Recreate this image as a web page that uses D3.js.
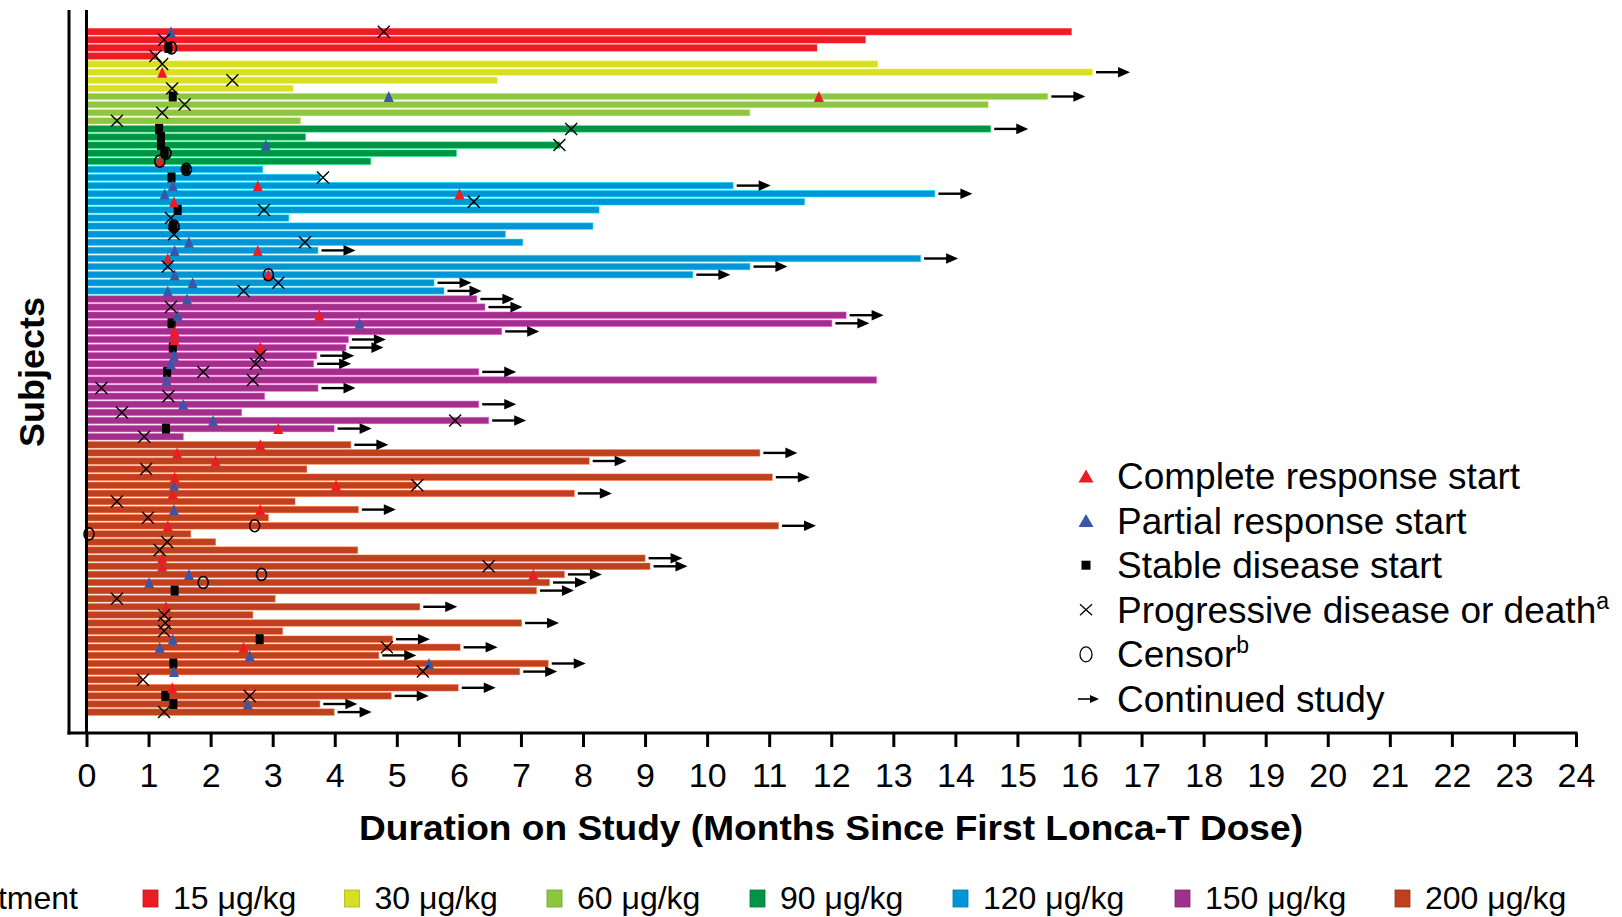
<!DOCTYPE html>
<html>
<head>
<meta charset="utf-8">
<script src="https://cdn.jsdelivr.net/npm/d3@7"></script>
<style>
  body { margin: 0; background: #fff; }
  svg { display: block; font-family: "Liberation Sans", Arial, sans-serif; }
</style>
</head>
<body>
<div id="chart"></div>
<script>
// dose groups, top to bottom
const doseLabels = ["15 μg/kg", "30 μg/kg", "60 μg/kg", "90 μg/kg", "120 μg/kg", "150 μg/kg", "200 μg/kg"];
const doseColors = ["#ed1c24", "#d7df23", "#8dc63f", "#009444", "#0096d6", "#a0308a", "#bf401e"];
const doseCounts = [4, 4, 4, 5, 16, 18, 34];

// months on study per subject (row order)
const duration = [
    15.87, 12.55, 11.77, 1.14,
    12.75, 16.21, 6.62, 3.33,
    15.49, 14.53, 10.69, 3.45,
    14.57, 3.53, 7.63, 5.96, 4.58,
    2.84, 3.77, 10.42, 13.67, 11.57, 8.26, 3.26, 8.16, 6.75, 7.03, 3.73, 13.44, 10.69, 9.77, 5.60, 5.76,
    6.29, 6.42, 12.24, 12.01, 6.69, 4.22, 4.18, 3.71, 3.66, 6.32, 12.73, 3.73, 2.87, 6.32, 2.50, 6.48, 3.99, 1.56,
    4.26, 10.85, 8.10, 3.55, 11.05, 5.31, 7.86, 3.36, 4.38, 2.93, 11.15, 1.68, 2.08, 4.37, 9.00, 9.08, 7.70,
    7.46, 7.25, 3.04, 5.37, 2.68, 7.01, 3.16, 4.93, 6.02, 4.71, 7.44, 6.98, 0.89, 5.99, 4.91, 3.76, 3.99
];
// 1 = continued study (arrow)
const continued = [
    0, 0, 0, 0,
    0, 1, 0, 0,
    1, 0, 0, 0,
    1, 0, 0, 0, 0,
    0, 0, 1, 1, 0, 0, 0, 0, 0, 0, 1, 1, 1, 1, 1, 1,
    1, 1, 1, 1, 1, 1, 1, 1, 1, 1, 0, 1, 0, 1, 0, 1, 1, 0,
    1, 1, 1, 0, 1, 0, 1, 0, 1, 0, 1, 0, 0, 0, 1, 1, 1,
    1, 1, 0, 1, 0, 1, 0, 1, 1, 1, 1, 1, 0, 1, 1, 1, 1
];

// events: [subject, month]
const crStart = [[6, 1.22], [9, 11.80], [17, 1.18], [20, 2.76], [21, 6.01], [22, 1.41], [28, 2.76], [29, 1.31],
    [31, 2.93], [36, 3.75], [38, 1.42], [39, 1.42], [40, 2.80], [50, 3.09], [52, 2.80], [53, 1.46], [54, 2.08],
    [56, 1.42], [57, 4.02], [58, 1.39], [60, 2.80], [62, 1.31], [66, 1.22], [67, 1.22], [68, 7.20], [72, 1.28],
    [77, 2.53], [82, 1.38]];
const prStart = [[1, 1.36], [9, 4.87], [15, 2.89], [20, 1.39], [21, 1.26], [27, 1.65], [28, 1.42], [31, 1.42],
    [32, 1.71], [33, 1.31], [34, 1.62], [36, 1.47], [37, 4.40], [41, 1.41], [42, 1.36], [44, 1.29], [47, 1.56],
    [49, 2.04], [57, 1.41], [60, 1.41], [68, 1.65], [69, 1.01], [76, 1.39], [77, 1.18], [78, 2.63], [79, 5.52],
    [80, 1.41], [84, 2.60]];
const sdStart = [[3, 1.32], [9, 1.39], [13, 1.17], [14, 1.20], [15, 1.20], [16, 1.26], [18, 1.60], [19, 1.37],
    [23, 1.47], [25, 1.40], [37, 1.37], [40, 1.39], [43, 1.30], [50, 1.28], [70, 1.42], [76, 2.79], [79, 1.40],
    [83, 1.27], [84, 1.40]];
const pdDeath = [[1, 4.79], [2, 1.25], [4, 1.11], [5, 1.22], [7, 2.35], [8, 1.38], [10, 1.58], [11, 1.22],
    [12, 0.49], [13, 7.81], [15, 7.62], [19, 3.81], [22, 6.24], [23, 2.86], [24, 1.36], [26, 1.41], [27, 3.52],
    [30, 1.31], [32, 3.09], [33, 2.53], [35, 1.36], [41, 2.80], [42, 2.73], [43, 1.88], [44, 2.68], [45, 0.24],
    [46, 1.32], [48, 0.57], [49, 5.94], [51, 0.93], [55, 0.96], [57, 5.33], [59, 0.49], [61, 0.99], [64, 1.30],
    [65, 1.18], [67, 6.48], [71, 0.49], [73, 1.25], [74, 1.27], [75, 1.25], [77, 4.84], [80, 5.42], [81, 0.91],
    [83, 2.63], [85, 1.25]];
const censor = [[3, 1.37], [16, 1.28], [17, 1.18], [18, 1.61], [25, 1.41], [31, 2.93], [62, 2.71], [63, 0.04],
    [68, 2.82], [69, 1.88]];

const xTicks = d3.range(0, 25);
const legendItems = ["Complete response start", "Partial response start", "Stable disease start",
    "Progressive disease or death", "Censor", "Continued study"];
const legendSup = ["", "", "", "a", "b", ""];

// ---- build subjects
let doseOf = [];
doseCounts.forEach((n, g) => { for (let k = 0; k < n; k++) doseOf.push(g); });
const subjects = duration.map((d, i) => ({id: i + 1, dose: doseOf[i], dur: d, cont: continued[i]}));

const W = 1622, H = 917;
const svg = d3.select("#chart").append("svg").attr("width", W).attr("height", H);

const x = d3.scaleLinear().domain([0, 24]).range([86.5, 1576]);
const y = d3.scaleBand().domain(subjects.map(d => d.id)).range([27.65, 716.15])
    .paddingInner(0.2).paddingOuter(0.1);
const yc = id => y(id) + y.bandwidth() / 2;

// ---- bars
svg.append("g").selectAll("rect").data(subjects).enter().append("rect")
    .attr("x", x(0))
    .attr("y", d => y(d.id))
    .attr("width", d => x(d.dur) - x(0))
    .attr("height", y.bandwidth())
    .attr("fill", d => doseColors[d.dose])
    .attr("stroke", d => d3.color(doseColors[d.dose]).brighter(1.3))
    .attr("stroke-opacity", 0.6)
    .attr("stroke-width", 0.8);

// ---- arrows
const arrows = svg.append("g").selectAll("g").data(subjects.filter(d => d.cont)).enter().append("g")
    .attr("transform", d => "translate(" + (x(d.dur) + 3.5) + "," + yc(d.id) + ")");
arrows.append("line").attr("x1", 0).attr("x2", 24).attr("stroke", "#000").attr("stroke-width", 2.4);
arrows.append("path").attr("d", "M22,-5.3L34,0L22,5.3Z").attr("fill", "#000");

function triPath(cx, cy, w, h) {
    return "M" + (cx - w / 2) + "," + (cy + h / 2) + "L" + cx + "," + (cy - h / 2) + "L" + (cx + w / 2) + "," + (cy + h / 2) + "Z";
}

// ---- markers
const mk = svg.append("g");
mk.selectAll("rect.sd").data(sdStart).enter().append("rect")
    .attr("class", "sd")
    .attr("x", d => x(d[1]) - 4).attr("y", d => yc(d[0]) - 5)
    .attr("width", 8).attr("height", 10).attr("fill", "#000");
mk.selectAll("path.pr").data(prStart).enter().append("path")
    .attr("class", "pr")
    .attr("d", d => triPath(x(d[1]), yc(d[0]), 10, 11)).attr("fill", "#3b56a6");
mk.selectAll("path.cr").data(crStart).enter().append("path")
    .attr("class", "cr")
    .attr("d", d => triPath(x(d[1]), yc(d[0]), 10, 11)).attr("fill", "#ed1c24");
mk.selectAll("path.pd").data(pdDeath).enter().append("path")
    .attr("class", "pd")
    .attr("d", d => {
        let cx = x(d[1]), cy = yc(d[0]);
        return "M" + (cx - 6) + "," + (cy - 6) + "L" + (cx + 6) + "," + (cy + 6) +
            "M" + (cx - 6) + "," + (cy + 6) + "L" + (cx + 6) + "," + (cy - 6);
    })
    .attr("stroke", "#000").attr("stroke-width", 1.4).attr("fill", "none");
mk.selectAll("ellipse.cs").data(censor).enter().append("ellipse")
    .attr("class", "cs")
    .attr("cx", d => x(d[1])).attr("cy", d => yc(d[0]))
    .attr("rx", 5).attr("ry", 6)
    .attr("fill", "none").attr("stroke", "#000").attr("stroke-width", 1.6);

// ---- axes
const axG = svg.append("g").attr("transform", "translate(0,733)")
    .call(d3.axisBottom(x).tickValues(xTicks).tickSize(14).tickSizeOuter(0).tickPadding(15.4).tickFormat(d3.format("d")));
axG.select(".domain").remove();
axG.selectAll(".tick line").attr("stroke", "#000").attr("stroke-width", 3);
axG.selectAll(".tick text").attr("fill", "#000").attr("font-size", 34)
    .attr("font-family", "'Liberation Sans', Arial, sans-serif");

svg.append("line").attr("x1", 67.5).attr("x2", x(24) + 1.5).attr("y1", 733).attr("y2", 733)
    .attr("stroke", "#000").attr("stroke-width", 3);
svg.append("line").attr("x1", 69).attr("x2", 69).attr("y1", 10).attr("y2", 734.5)
    .attr("stroke", "#000").attr("stroke-width", 3);
svg.append("line").attr("x1", x(0)).attr("x2", x(0)).attr("y1", 10).attr("y2", 733)
    .attr("stroke", "#000").attr("stroke-width", 3);

svg.append("text")
    .attr("x", 831).attr("y", 840)
    .attr("text-anchor", "middle")
    .attr("font-size", 35).attr("font-weight", "bold")
    .attr("textLength", 944).attr("lengthAdjust", "spacingAndGlyphs")
    .text("Duration on Study (Months Since First Lonca-T Dose)");

svg.append("text")
    .attr("transform", "translate(44,372) rotate(-90)")
    .attr("text-anchor", "middle")
    .attr("font-size", 35).attr("font-weight", "bold")
    .attr("textLength", 150).attr("lengthAdjust", "spacingAndGlyphs")
    .text("Subjects");

// ---- right legend
const lg = svg.append("g").attr("transform", "translate(1086,476)");
const lgRow = lg.selectAll("g").data(legendItems).enter().append("g")
    .attr("transform", (d, i) => "translate(0," + (i * 44.6) + ")");
lgRow.append("text")
    .attr("x", 31).attr("y", 13)
    .attr("font-size", 37).attr("fill", "#000")
    .text(d => d)
    .append("tspan")
    .attr("dy", -14).attr("font-size", 23)
    .text((d, i) => legendSup[i]);
lg.append("path").attr("d", triPath(0, 0, 15, 13)).attr("fill", "#ed1c24");
lg.append("path").attr("d", triPath(0, 44.6, 15, 13)).attr("fill", "#3b56a6");
lg.append("rect").attr("x", -4.5).attr("y", 89.2 - 4.5).attr("width", 9).attr("height", 9).attr("fill", "#000");
lg.append("path").attr("d", "M-6,128.3L6,139.3M-6,139.3L6,128.3").attr("stroke", "#000").attr("stroke-width", 1.3);
lg.append("ellipse").attr("cx", 0).attr("cy", 178.4).attr("rx", 6).attr("ry", 7.5)
    .attr("fill", "none").attr("stroke", "#000").attr("stroke-width", 1.3);
lg.append("line").attr("x1", -8).attr("x2", 6).attr("y1", 223).attr("y2", 223).attr("stroke", "#000").attr("stroke-width", 1.6);
lg.append("path").attr("d", "M4,219L13,223L4,227Z").attr("fill", "#000");

// ---- dose legend (bottom)
const doseX = [143, 344.5, 547, 750, 953, 1175, 1395];
svg.append("text").attr("x", 78).attr("y", 909).attr("text-anchor", "end")
    .attr("font-size", 32).attr("fill", "#000").text("Treatment");
const dl = svg.append("g").selectAll("g").data(doseLabels).enter().append("g")
    .attr("transform", (d, i) => "translate(" + doseX[i] + ",890)");
dl.append("rect").attr("width", 15).attr("height", 17)
    .attr("fill", (d, i) => doseColors[i])
    .attr("stroke", (d, i) => d3.color(doseColors[i]).darker(0.6)).attr("stroke-width", 0.8);
dl.append("text").attr("x", 30).attr("y", 19).attr("font-size", 32).attr("fill", "#000").text(d => d);
</script>
</body>
</html>
